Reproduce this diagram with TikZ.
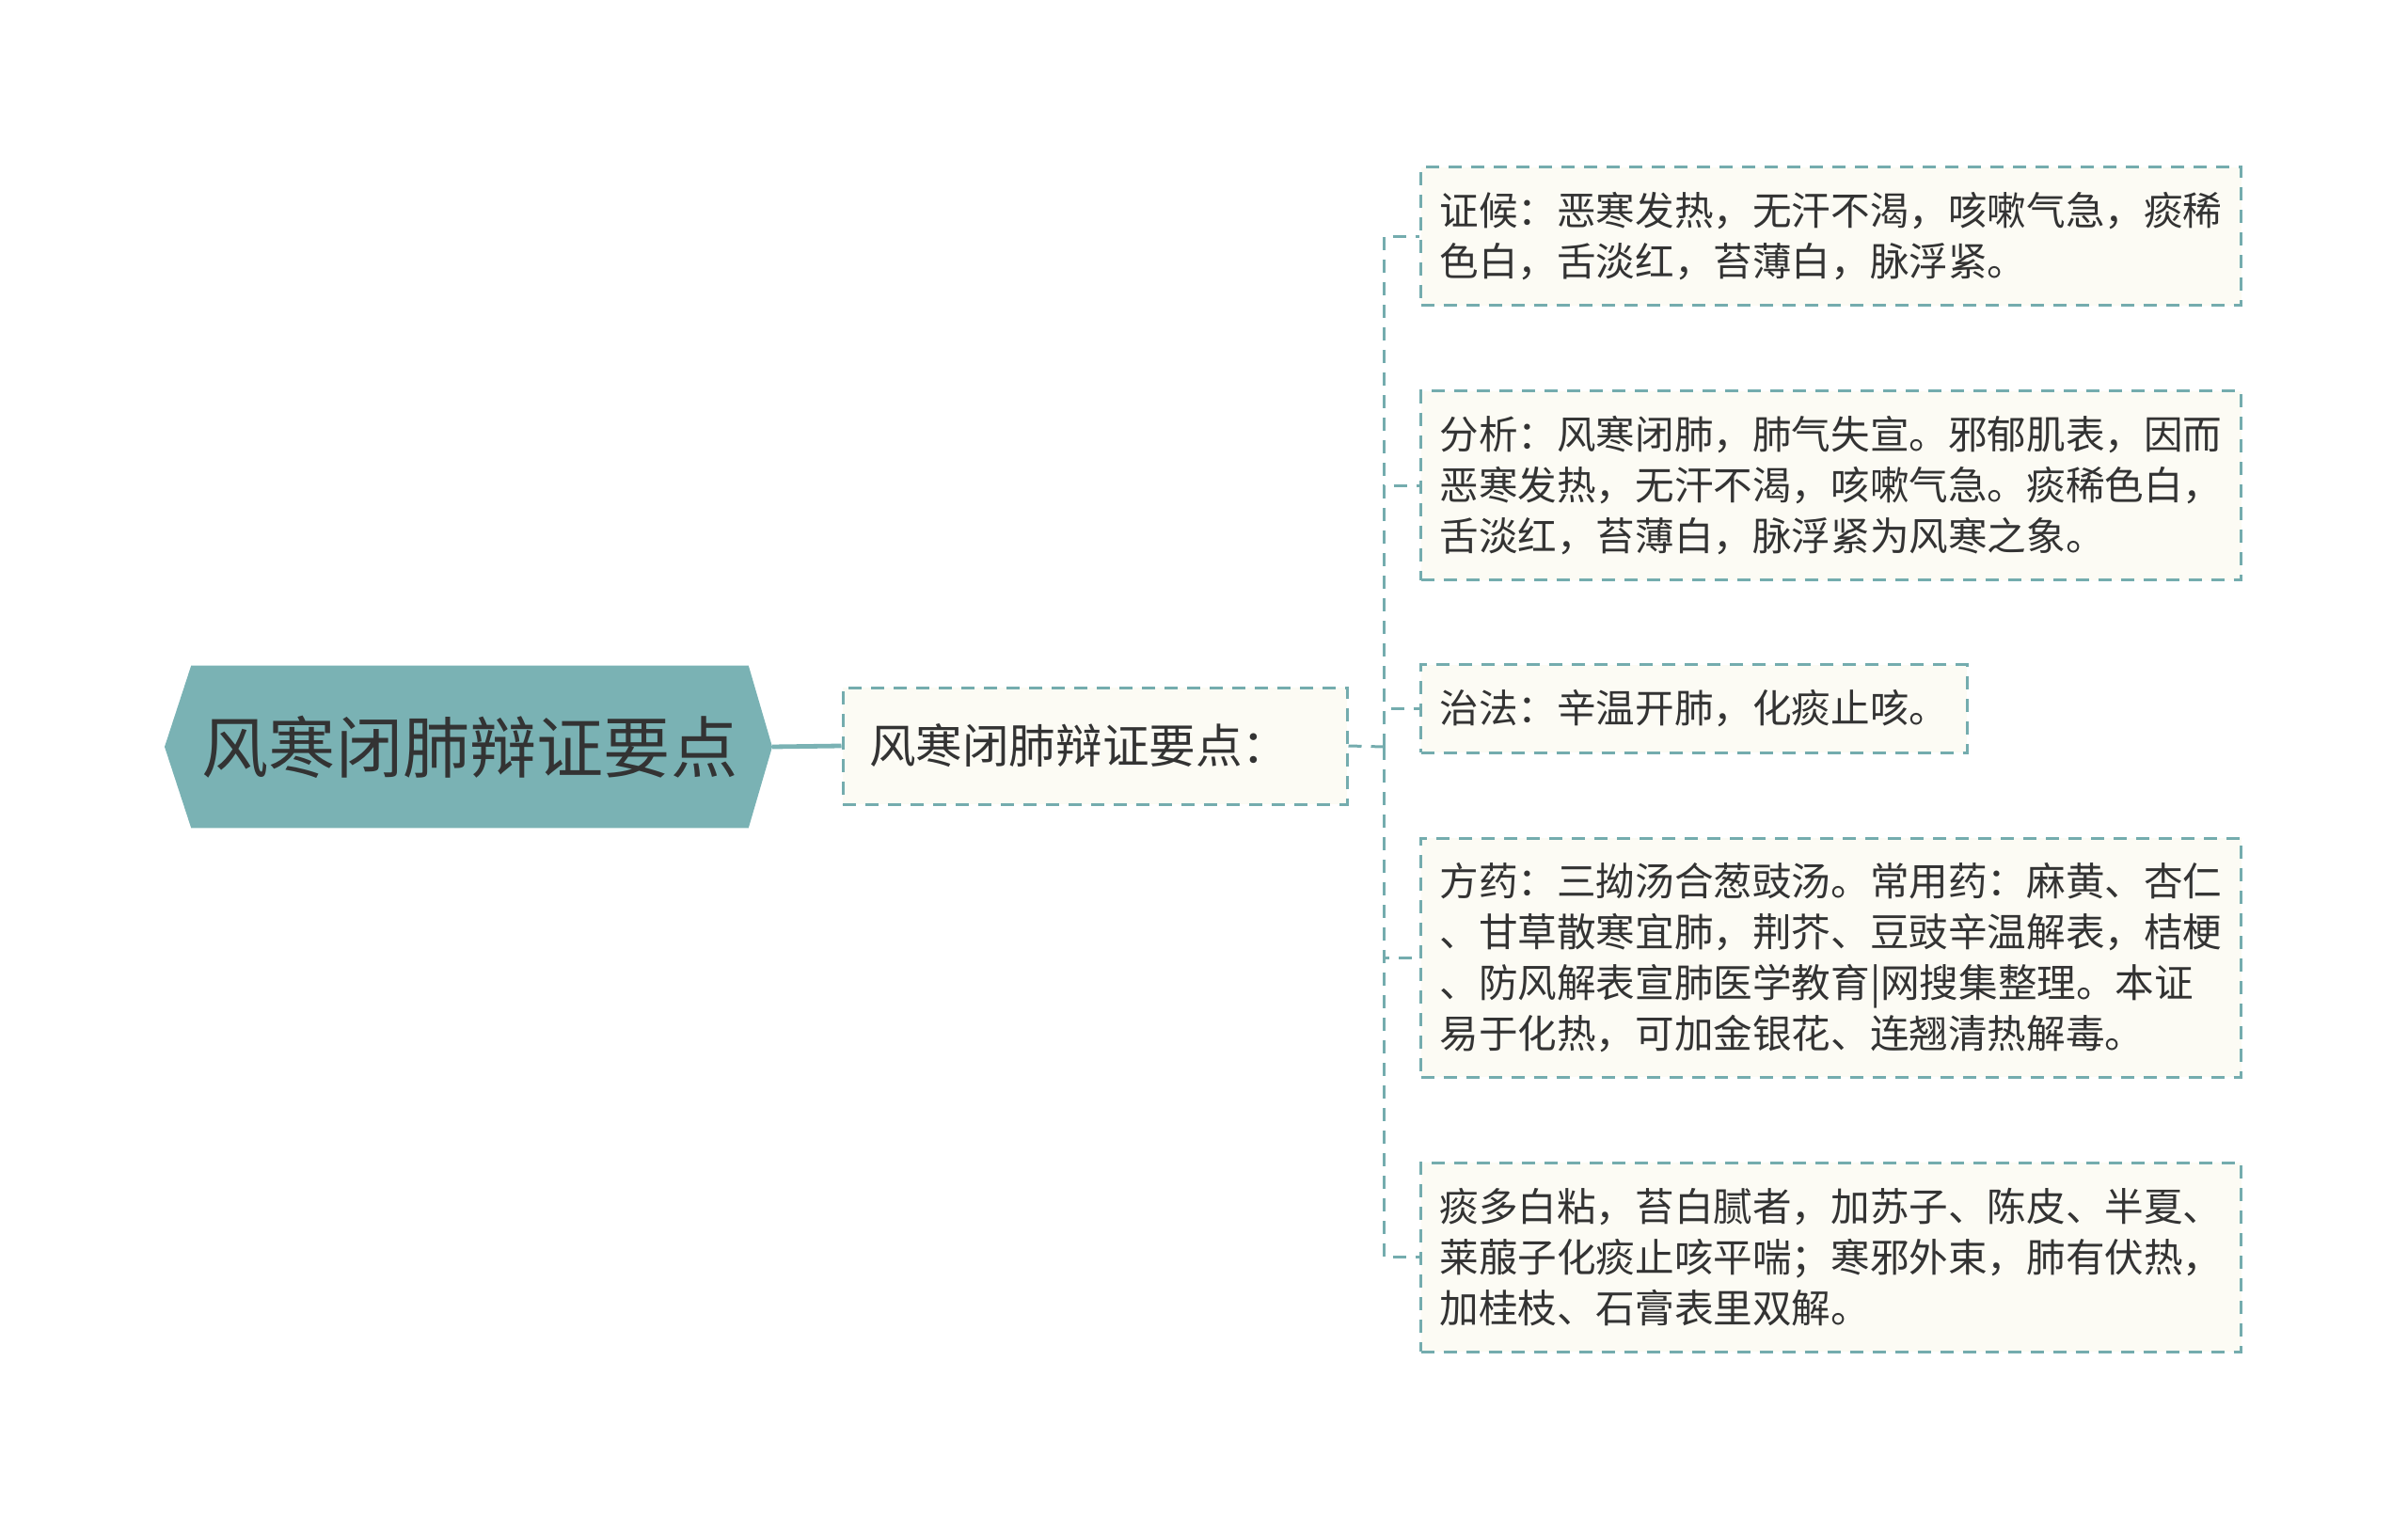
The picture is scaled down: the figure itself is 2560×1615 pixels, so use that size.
\documentclass[tikz,border=0pt]{standalone}
\usepackage{fontspec}
\setmainfont{Noto Sans CJK SC}
\usetikzlibrary{backgrounds}
\definecolor{rootfill}{HTML}{7AB2B4}
\definecolor{linecol}{HTML}{74ACAE}
\definecolor{cream}{HTML}{FCFBF4}
\definecolor{ink}{HTML}{333333}
\begin{document}
\begin{tikzpicture}
  [x=0.25pt,y=-0.25pt,
   Root/.style={inner sep=0,minimum width=147.75pt,minimum height=42.75pt,text=ink,font=\fontsize{17.8}{20}\selectfont},
   Box/.style={draw=linecol,line width=0.75pt,dash pattern=on 3.5pt off 2.5pt,fill=cream,text=ink,align=left},
   Mid/.style={Box,inner xsep=7pt,inner ysep=0pt,text width=120pt,minimum height=31pt,font=\fontsize{12.4}{15}\selectfont},
   Leaf/.style={Box,inner xsep=5pt,inner ysep=0pt,minimum height=#1,anchor=west,font=\fontsize{10.4}{13.5}\selectfont},
   Link/.style={draw=linecol,line width=0.75pt,dash pattern=on 3.5pt off 2.5pt}]
  \useasboundingbox (0,0) rectangle (2560,1615);

  \node[Root] (root) at (499.5,794) {风寒闭肺辩证要点};
  \coordinate (rootL) at (175,794);
  \coordinate (rootR) at (821,794);
  \begin{scope}[on background layer]
    \fill[rootfill] (root.north west) -- (root.north east) -- (rootR)
      -- (root.south east) -- (root.south west) -- (rootL) -- cycle;
  \end{scope}

  \node[Mid] (mid) at (1164,793) {风寒闭肺辩证要点：};
  \draw[rootfill,line width=1.2pt] (rootR) -- (mid.west);

  \node[Leaf=36.75pt,text width=208pt] (hou) at (1509,251.5)
    {证候：恶寒发热，无汗不渴，咳嗽气急，痰稀\\色白，舌淡红，苔薄白，脉浮紧。};
  \node[Leaf=50.25pt,text width=208pt] (xi) at (1509,516.5)
    {分析：风寒闭肺，肺气失宣。邪郁肌表，因而\\恶寒发热，无汗不渴，咳嗽气急。痰稀色白，\\舌淡红，苔薄白，脉浮紧为风寒之象。};
  \node[Leaf=23.25pt] (fa) at (1509,753.5)
    {治法：辛温开肺，化痰止咳。};
  \node[Leaf=63.5pt,text width=208pt] (yao) at (1509,1018)
    {方药：三拗汤合葱豉汤。常用药：麻黄、杏仁\\、甘草散寒宜肺，荆芥、豆豉辛温解表，桔梗\\、防风解表宣肺医学教育|网搜集整理。本证\\易于化热，可加金银花、连翘清热解毒。};
  \node[Leaf=50.25pt,text width=208pt] (tan) at (1509,1336.5)
    {痰多白粘，苔白腻者，加苏子、陈皮、半夏、\\莱菔子化痰止咳平喘；寒邪外束，肺有伏热，\\加桂枝、石膏表里双解。};

  \coordinate (fork) at (1471,794);
  \draw[Link] (mid.east) -- (fork);
  \foreach \n in {hou,xi,fa,yao,tan}
    \draw[Link] (fork) |- (\n.west);
\end{tikzpicture}
\end{document}
